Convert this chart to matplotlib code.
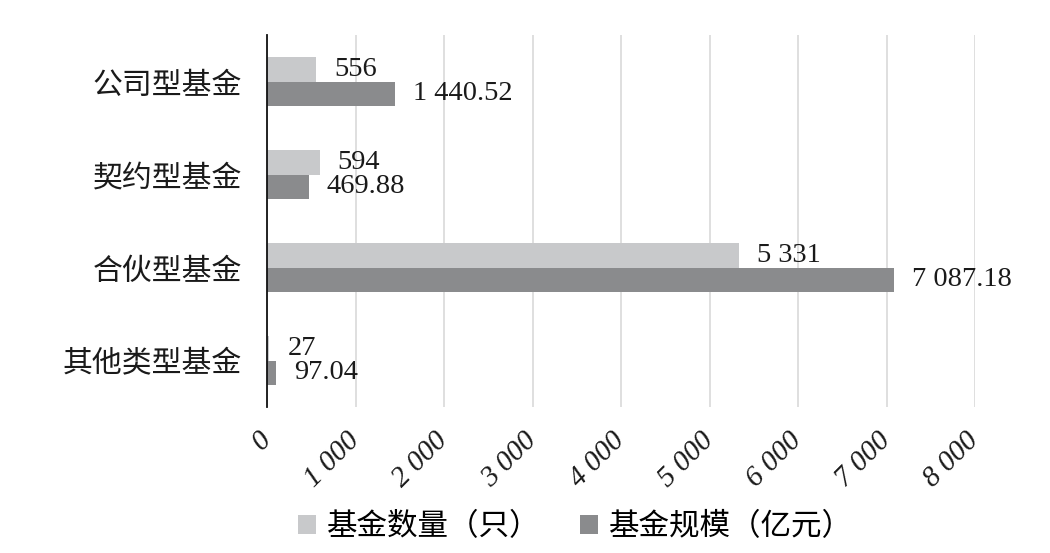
import matplotlib
matplotlib.use("Agg")
import matplotlib.pyplot as plt
from matplotlib.patches import Patch
from matplotlib.transforms import ScaledTranslation

categories = ["公司型基金", "契约型基金", "合伙型基金", "其他类型基金"]
counts = [556, 594, 5331, 27]
scales = [1440.52, 469.88, 7087.18, 97.04]
count_labels = ["556", "594", "5 331", "27"]
scale_labels = ["1 440.52", "469.88", "7 087.18", "97.04"]
xticks = [0, 1000, 2000, 3000, 4000, 5000, 6000, 7000, 8000]
xtick_labels = ["0", "1 000", "2 000", "3 000", "4 000", "5 000", "6 000", "7 000", "8 000"]
series_names = ["基金数量（只）", "基金规模（亿元）"]

light = "#c8c9cb"
dark = "#8a8b8d"
cjk = ["Noto Sans CJK SC", "DejaVu Sans"]
serif = ["Liberation Serif", "DejaVu Serif"]

fig = plt.figure(figsize=(10.5, 5.53), dpi=100)
ax = fig.add_axes([0.2543, 0.264, 0.6743, 0.6727])

h = 0.26
ys = list(range(len(categories)))
ax.barh([y - h / 2 for y in ys], counts, height=h, color=light, zorder=3)
ax.barh([y + h / 2 for y in ys], scales, height=h, color=dark, zorder=3)

for y, v, t in zip(ys, counts, count_labels):
    ax.annotate(t, (v, y - h / 2), xytext=(13, 0), textcoords="offset points",
                ha="left", va="center", fontsize=20.5, family=serif, color="#1a1a1a")
for y, v, t in zip(ys, scales, scale_labels):
    ax.annotate(t, (v, y + h / 2), xytext=(13, 0), textcoords="offset points",
                ha="left", va="center", fontsize=20.5, family=serif, color="#1a1a1a")

ax.set_xlim(0, 8000)
ax.set_ylim(3.5, -0.5)
ax.set_xticks(xticks)
ax.set_xticklabels(xtick_labels, rotation=45, ha="right", va="center",
                   rotation_mode="anchor", fontsize=21, family=serif,
                   style="italic", color="#1a1a1a")
off = ScaledTranslation(10 / 100, 0, fig.dpi_scale_trans)
for lab in ax.get_xticklabels():
    lab.set_transform(lab.get_transform() + off)
ax.set_yticks(ys)
ax.set_yticklabels(categories, fontsize=21.5, family=cjk, color="#1a1a1a",
                   fontweight="light")
ax.tick_params(axis="both", length=0)
ax.tick_params(axis="y", pad=18)
ax.tick_params(axis="x", pad=21)

ax.grid(axis="x", color="#d9d9d9", linewidth=1.2, zorder=0)
ax.grid(axis="y", visible=False)
for s in ["top", "right", "bottom"]:
    ax.spines[s].set_visible(False)
ax.spines["left"].set_color("#111111")
ax.spines["left"].set_linewidth(1.3)
ax.spines["left"].set_zorder(4)

handles = [Patch(facecolor=light, edgecolor="none"), Patch(facecolor=dark, edgecolor="none")]
fig.legend(handles, series_names, loc="center", bbox_to_anchor=(0.548, 0.047),
           ncol=2, frameon=False, prop={"family": cjk, "size": 22, "weight": "light"},
           handlelength=0.6, handleheight=0.6, handletextpad=0.35, columnspacing=1.3)

fig.savefig("out.png", dpi=100, facecolor="white")
